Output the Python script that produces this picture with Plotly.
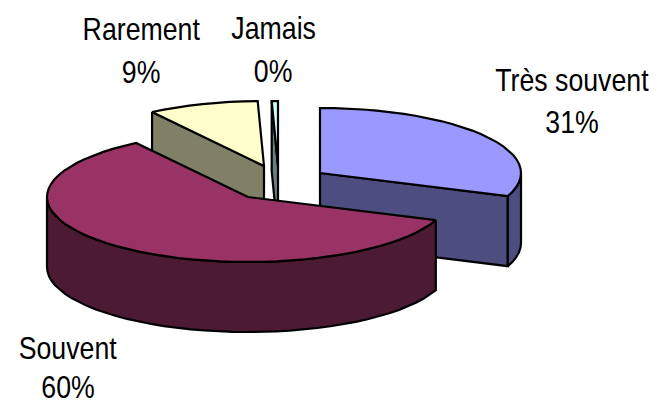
import math
import plotly.graph_objects as go

categories = ["Très souvent", "Souvent", "Rarement", "Jamais"]
values = [30.8, 59.8, 8.9, 0.5]

# Styles and projected-pie geometry (pixels on the hidden axes)
top_colors = ["#9999FF", "#993366", "#FFFFCC", "#CCFFFF"]
side_colors = ["#4D4D80", "#4D1A33", "#808066", "#668080"]
apexes = [(320, 173), (248, 197), (264, 166), (278, 166)]
label_pos = [(572, 80, 122), (68, 348, 387), (141, 29, 72), (273, 28, 71)]
RX, RY, DEPTH = 201, 65, 70
W, H = 659, 406
STEP = 4.0
draw_order = [2, 3, 0, 1]


def pt(c, deg, dz=0):
    a = math.radians(deg)
    return c[0] + RX * math.sin(a), c[1] - RY * math.cos(a) + dz


def arc(c, a0, a1, dz=0):
    n = max(1, int(abs(a1 - a0) / STEP))
    return [pt(c, a0 + (a1 - a0) * i / n, dz) for i in range(n + 1)]


def poly(fig, pts, color):
    xs = [p[0] for p in pts] + [pts[0][0]]
    ys = [p[1] for p in pts] + [pts[0][1]]
    fig.add_trace(go.Scatter(x=xs, y=ys, mode="lines", fill="toself", fillcolor=color,
                             line=dict(color="black", width=2.2), hoverinfo="skip",
                             showlegend=False))


total = sum(values)
angles = [0]
for v in values:
    angles.append(angles[-1] + v / total * 360)

fig = go.Figure()
for i in draw_order:
    a0, a1 = angles[i], angles[i + 1]
    c = apexes[i]
    top, side = top_colors[i], side_colors[i]
    # flat side facing the viewer at the end of the slice
    if a1 > 90 and a1 < 270:
        p = pt(c, a1)
        poly(fig, [c, p, (p[0], p[1] + DEPTH), (c[0], c[1] + DEPTH)], side)
    # flat side at the start of the slice, when it faces the viewer
    if a0 > 270:
        p = pt(c, a0)
        poly(fig, [p, c, (c[0], c[1] + DEPTH), (p[0], p[1] + DEPTH)], side)
    # outer rim
    r0, r1 = max(a0, 90), min(a1, 270)
    if r1 > r0:
        rim = arc(c, r0, r1)
        poly(fig, rim + arc(c, r1, r0, DEPTH), side)
    # top face
    poly(fig, [c] + arc(c, a0, a1), top)

annotations = []
for name, v, (x, y1, y2) in zip(categories, values, label_pos):
    for text, y in ((name, y1), (f"{v:.0f}%", y2)):
        annotations.append(dict(x=x, y=y, text=text, showarrow=False, xanchor="center",
                                yanchor="middle",
                                font=dict(family="Liberation Sans", size=32, color="black")))

fig.update_layout(
    width=W, height=H, margin=dict(l=0, r=0, t=0, b=0),
    paper_bgcolor="white", plot_bgcolor="white", showlegend=False,
    xaxis=dict(range=[0, W], visible=False, fixedrange=True),
    yaxis=dict(range=[H, 0], visible=False, fixedrange=True),
    annotations=annotations,
)
# Page margin off; labels narrowed to the reference's condensed lettering.
post = """
document.body.style.margin='0';
document.body.style.overflow='hidden';
document.querySelectorAll('.annotation-text').forEach(function(t){
  t.style.transformBox='fill-box';
  t.style.transformOrigin='center';
  t.style.transform='scaleX(0.835)';
});
"""
fig.write_html("out.html", config=dict(displayModeBar=False), post_script=post)
